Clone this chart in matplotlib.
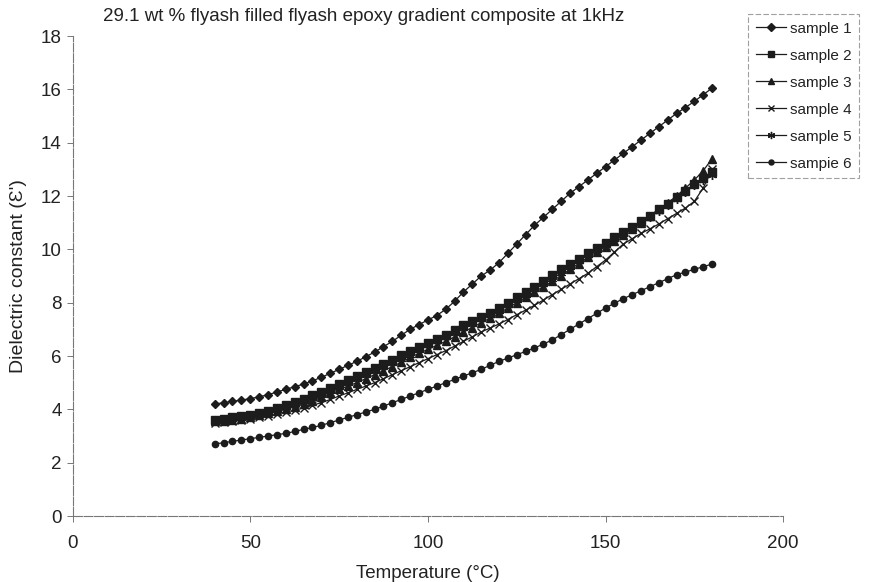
import matplotlib
matplotlib.use("Agg")
import matplotlib.pyplot as plt
import numpy as np

plt.rcParams['font.family'] = ['Liberation Sans', 'DejaVu Sans']

# temperature grid (°C), one reading every 2.5 degrees
temperature = np.arange(40, 180.1, 2.5)

sample1 = [4.20, 4.25, 4.30, 4.35, 4.40, 4.47, 4.55, 4.65, 4.75, 4.85,
           4.95, 5.07, 5.20, 5.35, 5.50, 5.65, 5.80, 5.97, 6.15, 6.35,
           6.55, 6.78, 7.00, 7.18, 7.35, 7.52, 7.75, 8.05, 8.40, 8.70,
           9.00, 9.22, 9.50, 9.85, 10.20, 10.55, 10.90, 11.20, 11.50, 11.80,
           12.10, 12.35, 12.60, 12.85, 13.10, 13.35, 13.60, 13.85, 14.10, 14.35,
           14.60, 14.85, 15.10, 15.32, 15.55, 15.80, 16.05]
sample2 = [3.60, 3.65, 3.70, 3.75, 3.80, 3.87, 3.95, 4.05, 4.15, 4.27,
           4.40, 4.52, 4.65, 4.80, 4.95, 5.10, 5.25, 5.40, 5.55, 5.70,
           5.85, 6.02, 6.20, 6.35, 6.50, 6.65, 6.80, 6.97, 7.15, 7.30,
           7.45, 7.62, 7.80, 8.00, 8.20, 8.40, 8.60, 8.82, 9.05, 9.25,
           9.45, 9.65, 9.85, 10.05, 10.25, 10.45, 10.65, 10.85, 11.05, 11.27,
           11.50, 11.72, 11.95, 12.20, 12.45, 12.67, 12.90]
sample3 = [3.55, 3.57, 3.60, 3.65, 3.70, 3.77, 3.85, 3.92, 4.00, 4.10,
           4.20, 4.32, 4.45, 4.60, 4.75, 4.87, 5.00, 5.15, 5.30, 5.45,
           5.60, 5.77, 5.95, 6.10, 6.25, 6.40, 6.55, 6.72, 6.90, 7.07,
           7.25, 7.42, 7.60, 7.80, 8.00, 8.20, 8.40, 8.60, 8.80, 9.02,
           9.25, 9.47, 9.70, 9.90, 10.10, 10.32, 10.55, 10.77, 11.00, 11.25,
           11.50, 11.75, 12.00, 12.30, 12.60, 12.95, 13.40]
sample4 = [3.50, 3.52, 3.55, 3.60, 3.65, 3.70, 3.75, 3.82, 3.90, 3.97,
           4.05, 4.15, 4.25, 4.37, 4.50, 4.62, 4.75, 4.87, 5.00, 5.15,
           5.30, 5.45, 5.60, 5.75, 5.90, 6.05, 6.20, 6.37, 6.55, 6.72,
           6.90, 7.05, 7.20, 7.37, 7.55, 7.72, 7.90, 8.10, 8.30, 8.50,
           8.70, 8.90, 9.10, 9.35, 9.60, 9.90, 10.20, 10.40, 10.60, 10.77,
           10.95, 11.15, 11.35, 11.55, 11.80, 12.30, 13.00]
sample5 = [3.60, 3.62, 3.65, 3.70, 3.75, 3.82, 3.90, 4.00, 4.10, 4.20,
           4.30, 4.42, 4.55, 4.70, 4.85, 5.00, 5.15, 5.30, 5.45, 5.60,
           5.75, 5.90, 6.05, 6.22, 6.40, 6.55, 6.70, 6.87, 7.05, 7.22,
           7.40, 7.55, 7.70, 7.90, 8.10, 8.30, 8.50, 8.70, 8.90, 9.12,
           9.35, 9.57, 9.80, 10.00, 10.20, 10.40, 10.60, 10.80, 11.00, 11.22,
           11.45, 11.67, 11.90, 12.15, 12.40, 12.60, 12.80]
sample6 = [2.70, 2.75, 2.80, 2.85, 2.90, 2.95, 3.00, 3.05, 3.10, 3.17,
           3.25, 3.32, 3.40, 3.50, 3.60, 3.70, 3.80, 3.90, 4.00, 4.12,
           4.25, 4.37, 4.50, 4.62, 4.75, 4.87, 5.00, 5.12, 5.25, 5.37,
           5.50, 5.65, 5.80, 5.92, 6.05, 6.17, 6.30, 6.45, 6.60, 6.80,
           7.00, 7.20, 7.40, 7.60, 7.80, 7.98, 8.15, 8.30, 8.45, 8.60,
           8.75, 8.90, 9.05, 9.15, 9.25, 9.35, 9.45]

labels = ["sample 1", "sample 2", "sample 3", "sample 4", "sample 5", "sampie 6"]
series = [sample1, sample2, sample3, sample4, sample5, sample6]
markers = ["D", "s", "^", "x", (6, 2, 0), "o"]
msizes = [4.5, 6, 5.5, 5.5, 6.5, 4.5]
col = "#1c1c1c"

fig = plt.figure(figsize=(8.75, 5.82), dpi=100)
ax = fig.add_axes([0.083, 0.1134, 0.812, 0.8246])

for y, lab, m, ms in zip(series, labels, markers, msizes):
    ax.plot(temperature, y, color=col, lw=0.9, marker=m, ms=ms,
            mec=col, mfc=col, mew=1.0, label=lab)

ax.set_xlim(0, 200)
ax.set_ylim(0, 18)
ax.set_xticks([0, 50, 100, 150, 200])
ax.set_yticks(range(0, 19, 2))
for s in ["top", "right"]:
    ax.spines[s].set_visible(False)
for s in ["left", "bottom"]:
    ax.spines[s].set_color("#777777")
    ax.spines[s].set_linewidth(0.8)
    ax.spines[s].set_linestyle((0, (8, 1.5)))
ax.tick_params(direction="out", length=4, width=0.7, color="#777777",
               labelsize=13.5, labelcolor="#222222", pad=4)
ax.tick_params(axis="x", pad=10)

fig.text(0.118, 0.972, "29.1 wt % flyash filled flyash epoxy gradient composite at 1kHz",
         fontsize=13.5, color="#222222", ha="left", va="center")
ax.set_xlabel("Temperature (°C)", fontsize=13.5, color="#222222", labelpad=9)
ax.set_ylabel("Dielectric constant (Ɛ')", fontsize=14, color="#222222", labelpad=10)

leg = fig.legend(loc="upper left", bbox_to_anchor=(0.855, 0.976), frameon=True,
                 fontsize=11, handlelength=2.0, labelspacing=0.85,
                 borderpad=0.5, fancybox=False, handletextpad=0.25,
                 borderaxespad=0.0, markerscale=0.8)
frame = leg.get_frame()
frame.set_edgecolor("#888888")
frame.set_linewidth(0.8)
frame.set_linestyle((0, (5, 2)))
for t in leg.get_texts():
    t.set_color("#222222")

fig.savefig("out.png", dpi=100)
